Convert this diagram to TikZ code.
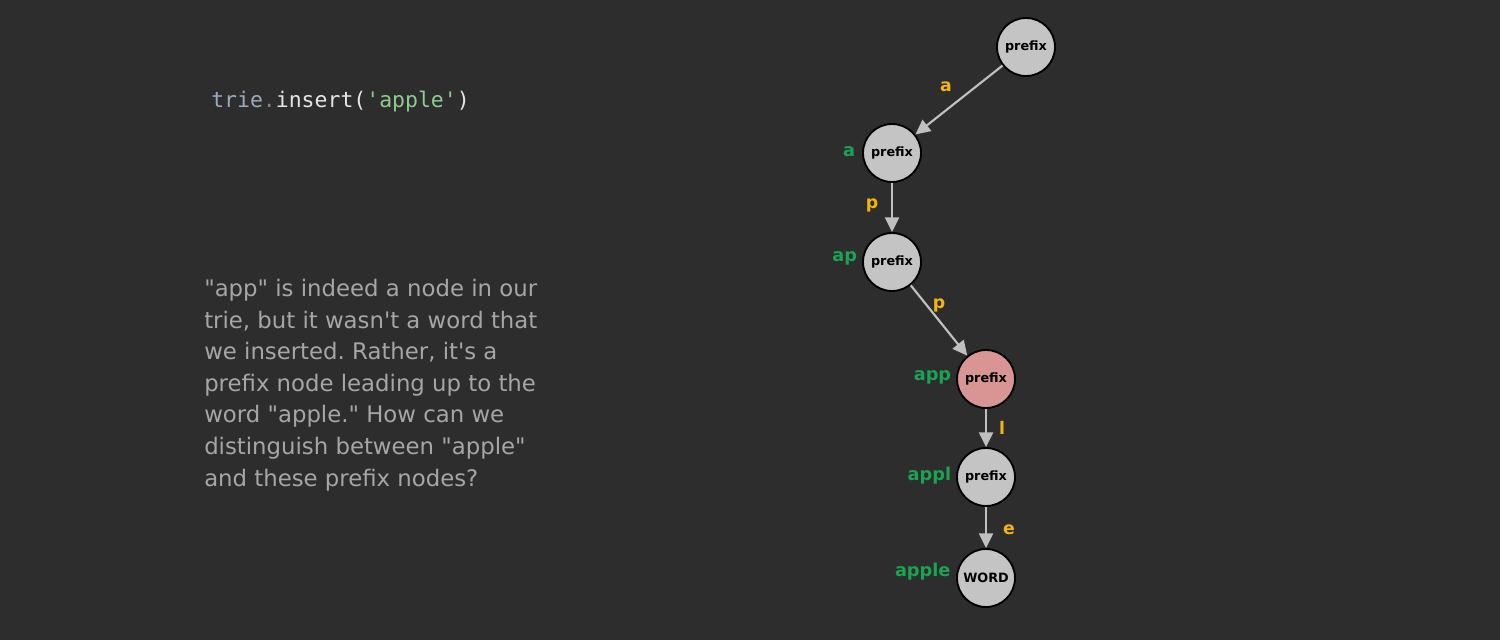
\documentclass[tikz,border=0pt]{standalone}
\usepackage{fontspec}
\setmainfont{DejaVu Sans}
\newfontfamily\codefont{DejaVu Sans Mono}
\usetikzlibrary{arrows.meta}
\usetikzlibrary{positioning}
\tikzset{trienode/.style = {circle, draw = black, line width = 1.4pt, fill = mnode, minimum size = 43.5pt, inner sep = 0, font = \fontsize{9.6}{10}\selectfont\bfseries}}
\tikzset{letter/.style = {text = myellow, anchor = mid, font = \fontsize{13}{14}\selectfont\bfseries}}
\tikzset{word/.style = {text = mgreen, inner sep = 0, font = \fontsize{13.3}{14}\selectfont\bfseries}}
\tikzset{link/.style = {draw = medge, line width = 1.6pt, -{Triangle[length = 11pt, width = 10.5pt]}}}
\definecolor{mbg}{HTML}{2D2D2D}
\definecolor{mnode}{HTML}{C4C4C4}
\definecolor{mpink}{HTML}{D99494}
\definecolor{medge}{HTML}{C0C0C0}
\definecolor{mgreen}{HTML}{1AA352}
\definecolor{myellow}{HTML}{F2B50F}
\definecolor{mtext}{HTML}{A6A6A6}
\definecolor{mcodea}{HTML}{9DA9BD}
\definecolor{mcodeb}{HTML}{E6E6E6}
\definecolor{mcodec}{HTML}{8FCB8F}
\begin{document}
\frenchspacing
\begin{tikzpicture}[x = 0.75pt, y = -0.75pt]
    \fill [mbg] (0, 0) rectangle (1500, 640);
    \useasboundingbox (0, 0) rectangle (1500, 640);

    \node [anchor = base west, inner sep = 0, font = \codefont\fontsize{16.1}{18}\selectfont] (code) at (211, 107)
      {\textcolor{mcodea}{trie}\textcolor{gray}{.}\textcolor{mcodeb}{insert(}\textcolor{mcodec}{\textquotesingle apple\textquotesingle}\textcolor{mcodeb}{)}};

    % base of a multi-line node is its last line
    \node [anchor = base west, align = left, inner sep = 0, text = mtext, font = \fontsize{17.1}{23.7}\selectfont] (note) at (204, 486)
      {\textquotedbl app\textquotedbl{} is indeed a node in our\\
       trie, but it wasn\textquotesingle t a word that\\
       we inserted. Rather, it\textquotesingle s a\\
       prefix node leading up to the\\
       word \textquotedbl apple.\textquotedbl{} How can we\\
       distinguish between \textquotedbl apple\textquotedbl\\
       and these prefix nodes?};

    \node [trienode] (root) at (1026, 47) {prefix};
    \node [trienode] (na) at (892, 153) {prefix};
    \node [trienode] (nap) at (892, 262) {prefix};
    \node [trienode, fill = mpink] (napp) at (986, 379) {prefix};
    \node [trienode] (nappl) at (986, 477) {prefix};
    \node [trienode] (napple) at (986, 578) {WORD};

    \draw [link] (root) -- (na);
    \draw [link] (na) -- (nap);
    \draw [link] (nap) -- (napp);
    \draw [link] (napp) -- (nappl);
    \draw [link] (nappl) -- (napple);

    \node [letter] (la) at (946, 88) {a};
    \node [letter] (lp) at (872, 205) {p};
    \node [letter] (lpp) at (939, 305) {p};
    \node [letter] (ll) at (1002, 431) {l};
    \node [letter] (le) at (1009, 531) {e};

    \node [word, left = 5pt of na, anchor = mid east] (wa) {a};
    \node [word, left = 3.5pt of nap, anchor = mid east, yshift = 3pt] (wap) {ap};
    \node [word, left = 3.5pt of napp, anchor = mid east, yshift = 1.5pt] (wapp) {app};
    \node [word, left = 3.5pt of nappl, anchor = mid east] (wappl) {appl};
    \node [word, left = 4pt of napple, anchor = mid east, yshift = 3.5pt] (wapple) {apple};
  \end{tikzpicture}
\end{document}
